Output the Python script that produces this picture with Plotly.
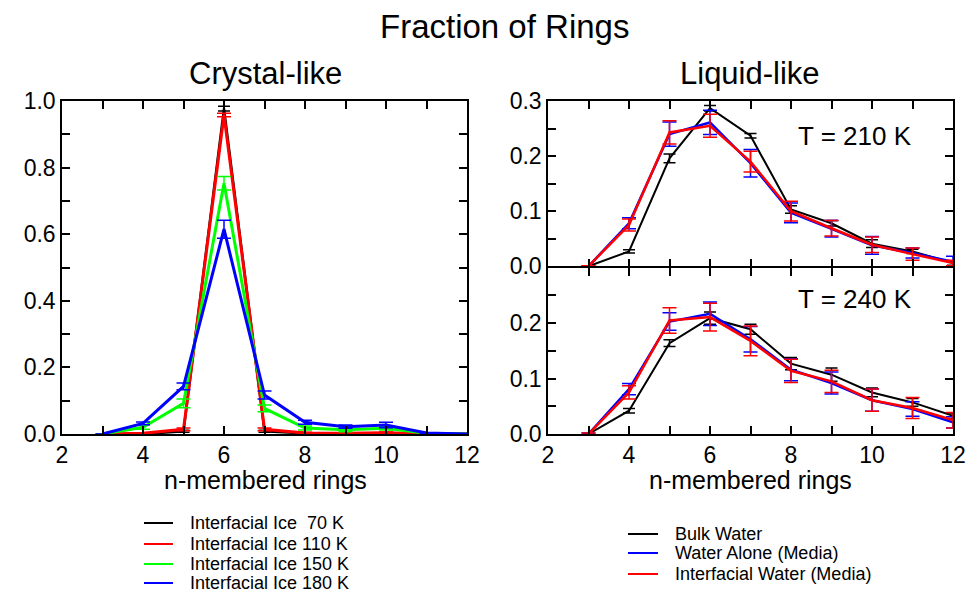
import plotly.graph_objects as go

# ring sizes (number of water molecules per ring)
ring_sizes = [3, 4, 5, 6, 7, 8, 9, 10, 11, 12]

# Crystal-like: interfacial ice at four temperatures
ice_labels = ["Interfacial Ice\u00a0\u00a070 K", "Interfacial Ice 110 K",
              "Interfacial Ice 150 K", "Interfacial Ice 180 K"]
ice_70 = [0.0, 0.0, 0.008, 0.977, 0.008, 0.002, 0.001, 0.003, 0.0, 0.0]
ice_70_err = [0.0, 0.0, 0.003, 0.007, 0.003, 0.001, 0.001, 0.001, 0.0, 0.0]
ice_110 = [0.0, 0.002, 0.014, 0.958, 0.014, 0.003, 0.002, 0.004, 0.001, 0.0]
ice_110_err = [0.0, 0.001, 0.004, 0.005, 0.004, 0.002, 0.002, 0.002, 0.001, 0.0]
ice_150 = [0.0, 0.020, 0.092, 0.753, 0.077, 0.018, 0.013, 0.017, 0.002, 0.0]
ice_150_err = [0.0, 0.006, 0.013, 0.020, 0.010, 0.006, 0.006, 0.005, 0.001, 0.0]
ice_180 = [0.0, 0.032, 0.143, 0.615, 0.117, 0.035, 0.022, 0.027, 0.003, 0.0]
ice_180_err = [0.0, 0.004, 0.010, 0.027, 0.012, 0.006, 0.005, 0.008, 0.001, 0.0]

# Liquid-like: three water environments at two temperatures
water_labels = ["Bulk Water", "Water Alone (Media)", "Interfacial Water (Media)"]
bulk_210 = [0.0, 0.027, 0.196, 0.287, 0.237, 0.103, 0.078, 0.041, 0.027, 0.006]
bulk_210_err = [0.001, 0.003, 0.008, 0.005, 0.004, 0.007, 0.005, 0.007, 0.004, 0.004]
alone_210 = [0.0, 0.078, 0.240, 0.261, 0.187, 0.097, 0.068, 0.038, 0.024, 0.008]
alone_210_err = [0.001, 0.010, 0.022, 0.022, 0.025, 0.018, 0.015, 0.016, 0.009, 0.010]
inter_210 = [0.0, 0.075, 0.243, 0.255, 0.190, 0.100, 0.069, 0.039, 0.022, 0.006]
inter_210_err = [0.001, 0.011, 0.021, 0.021, 0.019, 0.018, 0.014, 0.014, 0.011, 0.005]

bulk_240 = [0.0, 0.042, 0.164, 0.209, 0.189, 0.127, 0.107, 0.075, 0.057, 0.033]
bulk_240_err = [0.001, 0.004, 0.006, 0.011, 0.009, 0.011, 0.012, 0.008, 0.007, 0.005]
alone_240 = [0.0, 0.081, 0.203, 0.217, 0.171, 0.116, 0.092, 0.061, 0.045, 0.021]
alone_240_err = [0.002, 0.010, 0.016, 0.021, 0.023, 0.020, 0.020, 0.020, 0.013, 0.010]
inter_240 = [0.0, 0.075, 0.205, 0.211, 0.168, 0.114, 0.095, 0.061, 0.047, 0.025]
inter_240_err = [0.002, 0.012, 0.023, 0.025, 0.027, 0.021, 0.020, 0.020, 0.019, 0.014]

x_ticks = list(range(2, 13))
x_ticktext = [str(v) if v % 2 == 0 else "" for v in x_ticks]
left_yticks = [round(0.1 * i, 1) for i in range(11)]
left_yticktext = [f"{v:.1f}" if i % 2 == 0 else "" for i, v in enumerate(left_yticks)]
right_yticks = [round(0.05 * i, 2) for i in range(7)]
top_yticktext = ["0.0", "", "0.1", "", "0.2", "", "0.3"]
bottom_yticktext = ["0.0", "", "0.1", "", "0.2", "", ""]

FONT = "Liberation Sans, Arial, Helvetica, sans-serif"
W, H = 973, 592


def px_x(p):
    return p / W


def px_y(p):
    return 1 - p / H


fig = go.Figure()

ice_colors = ["#000000", "#ff0000", "#00ff00", "#0000ff"]
ice_series = [(ice_70, ice_70_err, 2.5, 6), (ice_110, ice_110_err, 3, 7),
              (ice_150, ice_150_err, 3, 7), (ice_180, ice_180_err, 3, 7)]
for name, col, (vals, errs, lw, cap) in zip(ice_labels, ice_colors, ice_series):
    fig.add_trace(go.Scatter(
        x=ring_sizes, y=vals, mode="lines", name=name, showlegend=False,
        line=dict(color=col, width=lw),
        error_y=dict(type="data", array=errs, color=col, thickness=1.5, width=cap),
        xaxis="x", yaxis="y"))

water_colors = ["#000000", "#0000ff", "#ff0000"]
water_top = [(bulk_210, bulk_210_err, 2, 6), (alone_210, alone_210_err, 2.5, 7),
             (inter_210, inter_210_err, 2.5, 7)]
water_bottom = [(bulk_240, bulk_240_err, 2, 6), (alone_240, alone_240_err, 2.5, 7),
                (inter_240, inter_240_err, 2.5, 7)]
for panel, (xa, ya) in ((water_top, ("x2", "y2")), (water_bottom, ("x3", "y3"))):
    for name, col, (vals, errs, lw, cap) in zip(water_labels, water_colors, panel):
        fig.add_trace(go.Scatter(
            x=ring_sizes, y=vals, mode="lines", name=name, showlegend=False,
            line=dict(color=col, width=lw),
            error_y=dict(type="data", array=errs, color=col, thickness=1.5, width=cap),
            xaxis=xa, yaxis=ya))

axis_common = dict(showline=True, linecolor="#000000", linewidth=1.5, mirror="ticks",
                   ticks="inside", ticklen=8, tickwidth=1.5, tickcolor="#000000",
                   showgrid=False, zeroline=False, automargin=False,
                   tickfont=dict(family=FONT, size=23, color="#000000"))

left_dom = [px_x(62), px_x(467)]
right_dom = [px_x(548), px_x(953)]

fig.update_layout(
    width=W, height=H, margin=dict(l=0, r=0, t=0, b=0, autoexpand=False),
    paper_bgcolor="white", plot_bgcolor="white",
    font=dict(family=FONT, color="#000000"),
    showlegend=False,
    xaxis=dict(domain=left_dom, range=[2, 12], tickmode="array", tickvals=x_ticks,
               ticktext=x_ticktext, anchor="y", **axis_common),
    yaxis=dict(domain=[px_y(434), px_y(101)], range=[0, 1], tickmode="array",
               tickvals=left_yticks, ticktext=left_yticktext, anchor="x", **axis_common),
    xaxis2=dict(domain=right_dom, range=[2, 12], tickmode="array", tickvals=x_ticks,
                ticktext=["" for _ in x_ticks], anchor="y2", **axis_common),
    yaxis2=dict(domain=[px_y(266.25), px_y(101)], range=[0, 0.3], tickmode="array",
                tickvals=right_yticks, ticktext=top_yticktext, anchor="x2", **axis_common),
    xaxis3=dict(domain=right_dom, range=[2, 12], tickmode="array", tickvals=x_ticks,
                ticktext=x_ticktext, anchor="y3", **axis_common),
    yaxis3=dict(domain=[px_y(434), px_y(267.75)], range=[0, 0.3], tickmode="array",
                tickvals=right_yticks, ticktext=bottom_yticktext, anchor="x3", **axis_common),
)

text_items = [
    ("Fraction of Rings", 505, 26, 33),
    ("Crystal-like", 265, 73, 31),
    ("Liquid-like", 750, 73, 31),
    ("n-membered rings", 265, 480, 25),
    ("n-membered rings", 750, 480, 25),
    ("T = 210 K", 855, 136, 26),
    ("T = 240 K", 855, 299, 26),
]
annotations = [
    dict(text=t, x=px_x(x), y=px_y(y), xref="paper", yref="paper",
         xanchor="center", yanchor="middle", showarrow=False,
         font=dict(family=FONT, size=s, color="#000000"))
    for t, x, y, s in text_items
]

# keys below each panel: a short line sample followed by the series name
shapes = []
key_groups = [
    (ice_labels, ice_colors, 144, 173, 188, [523, 544, 564, 583]),
    (water_labels, water_colors, 628, 658, 673, [534, 553, 574]),
]
for labels, colors, x0, x1, xt, rows in key_groups:
    for label, col, yrow in zip(labels, colors, rows):
        shapes.append(dict(type="line", xref="paper", yref="paper",
                           x0=px_x(x0), x1=px_x(x1), y0=px_y(yrow), y1=px_y(yrow),
                           line=dict(color=col, width=2)))
        annotations.append(dict(text=label, x=px_x(xt), y=px_y(yrow), xref="paper",
                                yref="paper", xanchor="left", yanchor="middle",
                                showarrow=False,
                                font=dict(family=FONT, size=18, color="#000000")))

fig.update_layout(annotations=annotations, shapes=shapes)

fig.write_html("out.html")
